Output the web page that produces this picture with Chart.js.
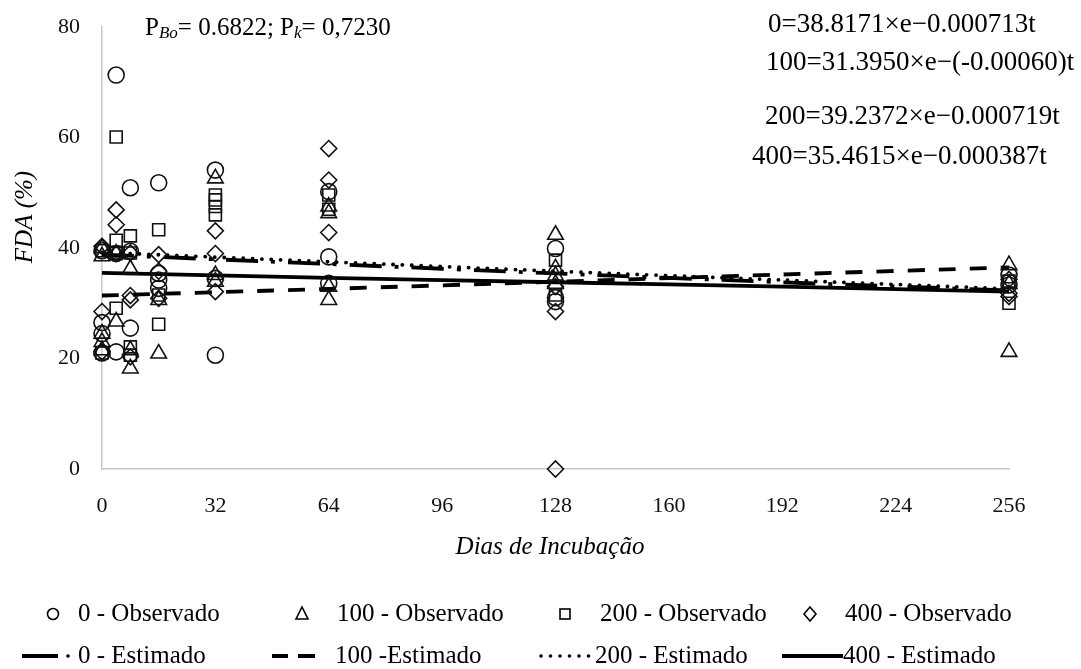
<!DOCTYPE html>
<html>
<head>
<meta charset="utf-8">
<script src="https://cdn.jsdelivr.net/npm/chart.js@4.4.0/dist/chart.umd.min.js"></script>
<style>
  html, body { margin: 0; padding: 0; background: #fff; }
  #wrap { width: 1081px; height: 669px; }
</style>
</head>
<body>
<div id="wrap"><canvas id="chart"></canvas></div>
<script>
// observed FDA (%) per dose, [day, value]
const obs0 = [[0,39.5],[0,26.5],[0,24.5],[0,21],[4,71.3],[4,39],[4,21.2],[8,50.9],[8,39.4],[8,25.5],
  [16,51.8],[16,35.4],[16,34.2],[16,32.7],[32,54.1],[32,34.5],[32,20.6],[64,50.2],[64,38.4],[64,33.6],
  [128,39.9],[128,31],[128,30.3],[256,35.1],[256,33.3]];
const obs100 = [[0,40],[0,38.5],[0,24.5],[0,23],[0,21.5],[4,39],[4,26.7],[8,36.2],[8,21.5],[8,18.2],
  [16,30.6],[16,20.9],[32,52.6],[32,35.1],[32,33.9],[64,47.5],[64,46.3],[64,33],[64,30.6],
  [128,42.4],[128,36.3],[128,35],[128,33.5],[256,36.9],[256,33.5],[256,21.2]];
const obs200 = [[0,39.5],[0,21],[4,60.1],[4,41.4],[4,39],[4,29.1],[8,42.2],[8,39.1],[8,22.1],[8,20.6],
  [16,43.3],[16,31.5],[16,26.2],[32,49.6],[32,48.7],[32,47.5],[32,46],[64,49.6],[64,47],
  [128,37.8],[128,31.5],[256,30],[256,34]];
const obs400 = [[0,40.3],[0,28.5],[0,21.2],[4,46.9],[4,44.2],[4,39],[8,39.1],[8,31.4],[8,30.6],[8,20.3],
  [16,38.8],[16,35.8],[16,30.9],[32,43.1],[32,39],[32,32.1],[64,58],[64,52.3],[64,42.8],
  [128,33],[128,28.5],[128,0],[256,34.3],[256,31.8],[256,31.2]];

// fitted curves
const estDays = [0, 64, 128, 192, 256];
const est0 = [38.8, 37.1, 35.4, 33.8, 32.3];
const est100 = [31.4, 32.6, 33.9, 35.2, 36.5];
const est200 = [39.2, 37.5, 35.8, 34.2, 32.6];
const est400 = [35.5, 34.6, 33.8, 33.0, 32.1];

const xTicks = [0, 32, 64, 96, 128, 160, 192, 224, 256];
const yTicks = [0, 20, 40, 60, 80];

const legendRow1 = ['0 - Observado', '100 - Observado', '200 - Observado', '400 - Observado'];
const legendRow2 = ['0 - Estimado', '100 -Estimado', '200 - Estimado', '400 - Estimado'];
const equations = ['0=38.8171×e\u22120.000713t', '100=31.3950×e\u2212(-0.00060)t',
  '200=39.2372×e\u22120.000719t', '400=35.4615×e\u22120.000387t'];

const SERIF = '"Liberation Serif", "Times New Roman", serif';

const toPts = arr => arr.map(p => ({x: p[0], y: p[1]}));
const toLine = vals => estDays.map((d, i) => ({x: d, y: vals[i]}));

function obsSet(label, data, style, r) {
  return {
    type: 'scatter', label, data: toPts(data), pointStyle: style, pointRadius: r,
    pointBorderColor: '#111', pointBackgroundColor: 'rgba(0,0,0,0)', pointBorderWidth: 1.6,
    showLine: false, order: 1, clip: false
  };
}
function estSet(label, data, dash, cap) {
  return {
    type: 'line', label, data: toLine(data), borderColor: '#000', borderWidth: 3.8,
    borderDash: dash, borderCapStyle: cap || 'butt', pointRadius: 0, tension: 0.3,
    fill: false, order: 2, clip: false
  };
}

// hand-drawn texts, legend and equations
const extras = {
  id: 'extras',
  afterDraw(chart) {
    const ctx = chart.ctx;
    ctx.save();
    ctx.fillStyle = '#000';
    ctx.strokeStyle = '#000';
    ctx.textBaseline = 'middle';

    // axis titles
    ctx.font = 'italic 25px ' + SERIF;
    ctx.textAlign = 'center';
    ctx.fillText('Dias de Incubação', 550, 547);
    ctx.save();
    ctx.translate(25, 217);
    ctx.rotate(-Math.PI / 2);
    ctx.fillText('FDA (%)', 0, 0);
    ctx.restore();

    // P values with subscripts
    ctx.textAlign = 'left';
    let x = 145;
    const py = 28;
    const part = (t, font, dy) => { ctx.font = font; ctx.fillText(t, x, py + dy); x += ctx.measureText(t).width; };
    part('P', '25px ' + SERIF, 0);
    part('Bo', 'italic 17px ' + SERIF, 6);
    part('= 0.6822; P', '25px ' + SERIF, 0);
    part('k', 'italic 17px ' + SERIF, 6);
    part('= 0,7230', '25px ' + SERIF, 0);

    // equations
    ctx.font = '27px ' + SERIF;
    const eqPos = [[768, 25], [766, 63], [765, 117], [752, 157]];
    equations.forEach((t, i) => ctx.fillText(t, eqPos[i][0], eqPos[i][1]));

    // legend row 1
    const y1 = 614, y2 = 656;
    ctx.lineWidth = 1.6;
    ctx.beginPath(); ctx.arc(53, y1, 5.5, 0, Math.PI * 2); ctx.stroke();
    ctx.beginPath(); ctx.moveTo(302, y1 - 7); ctx.lineTo(308, y1 + 5); ctx.lineTo(296, y1 + 5); ctx.closePath(); ctx.stroke();
    ctx.strokeRect(560, y1 - 5, 10, 10);
    ctx.beginPath(); ctx.moveTo(810, y1 - 7); ctx.lineTo(816, y1); ctx.lineTo(810, y1 + 7); ctx.lineTo(804, y1); ctx.closePath(); ctx.stroke();
    ctx.font = '25px ' + SERIF;
    [78, 337, 600, 845].forEach((lx, i) => ctx.fillText(legendRow1[i], lx, y1));

    // legend row 2
    ctx.lineWidth = 4;
    ctx.beginPath(); ctx.moveTo(22, y2); ctx.lineTo(58, y2); ctx.stroke();
    ctx.beginPath(); ctx.arc(68, y2, 1.8, 0, Math.PI * 2); ctx.fill();
    ctx.beginPath(); ctx.moveTo(272, y2); ctx.lineTo(288, y2); ctx.moveTo(298, y2); ctx.lineTo(315, y2); ctx.stroke();
    for (let dx = 541; dx <= 590; dx += 9.5) { ctx.beginPath(); ctx.arc(dx, y2, 1.8, 0, Math.PI * 2); ctx.fill(); }
    ctx.beginPath(); ctx.moveTo(782, y2); ctx.lineTo(843, y2); ctx.stroke();
    [78, 335, 595, 843].forEach((lx, i) => ctx.fillText(legendRow2[i], lx, y2));
    ctx.restore();
  }
};

new Chart(document.getElementById('chart'), {
  data: {
    datasets: [
      obsSet('0 - Observado', obs0, 'circle', 8),
      obsSet('100 - Observado', obs100, 'triangle', 9),
      obsSet('200 - Observado', obs200, 'rect', 8.5),
      obsSet('400 - Observado', obs400, 'rectRot', 8),
      estSet('0 - Estimado', est0, [32, 13, 4, 13]),
      estSet('100 -Estimado', est100, [17, 14]),
      estSet('200 - Estimado', est200, [0.1, 9.3], 'round'),
      estSet('400 - Estimado', est400, [])
    ]
  },
  options: {
    responsive: true,
    maintainAspectRatio: false,
    animation: false,
    devicePixelRatio: 1,
    layout: { padding: { top: 27, right: 72, left: 0, bottom: 0 } },
    plugins: { legend: { display: false }, tooltip: { enabled: false } },
    scales: {
      x: {
        type: 'linear', min: 0, max: 256,
        afterFit: s => { s.height = 200; s.paddingLeft = 0; s.paddingRight = 0; },
        afterBuildTicks: s => { s.ticks = xTicks.map(v => ({value: v})); },
        grid: { display: false, drawTicks: false },
        border: { display: true, color: '#c8c8c8', width: 1.5 },
        ticks: { color: '#111', padding: 24, font: { family: SERIF, size: 22 }, maxRotation: 0 }
      },
      y: {
        type: 'linear', min: 0, max: 80,
        afterFit: s => { s.width = 102; s.paddingTop = 0; s.paddingBottom = 0; },
        afterBuildTicks: s => { s.ticks = yTicks.map(v => ({value: v})); },
        grid: { display: false, drawTicks: false },
        border: { display: true, color: '#c8c8c8', width: 1.5 },
        ticks: { color: '#111', padding: 22, font: { family: SERIF, size: 22 } }
      }
    }
  },
  plugins: [extras]
});
</script>
</body>
</html>
